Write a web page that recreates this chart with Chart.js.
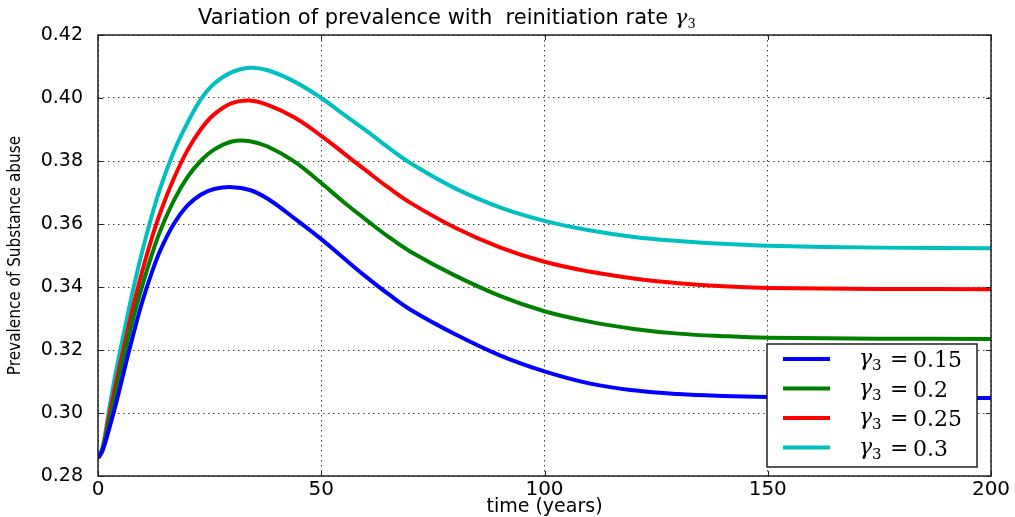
<!DOCTYPE html>
<html>
<head>
<meta charset="utf-8">
<script src="https://cdn.jsdelivr.net/npm/chart.js@4/dist/chart.umd.min.js"></script>
<style>
  html, body { margin: 0; padding: 0; background: #fff; }
  #wrap { width: 1015px; height: 517px; }
</style>
</head>
<body>
<div id="wrap"><canvas id="chart" width="1015" height="517"></canvas></div>
<script>
// time axis (years), shared by every curve
const years = [0, 1, 2.5, 4, 6, 8, 10, 12, 14, 17, 20, 23, 26, 30, 34, 38, 44, 50, 55, 60, 65, 70, 80, 90, 100, 110, 120, 130, 140, 150, 175, 200];

// reinitiation rates gamma_3
const gammas = [0.15, 0.2, 0.25, 0.3];

// prevalence
const prev015 = [0.2857, 0.2880, 0.2950, 0.3028, 0.3143, 0.3255, 0.3357, 0.3444, 0.3518, 0.3601, 0.3658, 0.3693, 0.3711, 0.3717, 0.3708, 0.3680, 0.3618, 0.3552, 0.3492, 0.3433, 0.3378, 0.3328, 0.3250, 0.3183, 0.3132, 0.3094, 0.3072, 0.3060, 0.3054, 0.3051, 0.3048, 0.3048];
const prev020 = [0.2857, 0.2882, 0.2968, 0.3063, 0.3192, 0.3306, 0.3408, 0.3500, 0.3580, 0.3675, 0.3748, 0.3800, 0.3836, 0.3862, 0.3863, 0.3846, 0.3798, 0.3730, 0.3670, 0.3614, 0.3560, 0.3512, 0.3436, 0.3372, 0.3323, 0.3290, 0.3267, 0.3252, 0.3244, 0.3239, 0.3236, 0.3235];
const prev025 = [0.2857, 0.2885, 0.2990, 0.3092, 0.3220, 0.3345, 0.3455, 0.3553, 0.3638, 0.3745, 0.3833, 0.3900, 0.3948, 0.3984, 0.3992, 0.3978, 0.3938, 0.3880, 0.3825, 0.3770, 0.3716, 0.3667, 0.3588, 0.3526, 0.3480, 0.3449, 0.3427, 0.3412, 0.3402, 0.3397, 0.3394, 0.3393];
const prev030 = [0.2857, 0.2890, 0.3012, 0.3130, 0.3268, 0.3400, 0.3518, 0.3624, 0.3716, 0.3830, 0.3920, 0.3995, 0.4045, 0.4082, 0.4096, 0.4088, 0.4052, 0.4000, 0.3948, 0.3897, 0.3843, 0.3793, 0.3713, 0.3653, 0.3610, 0.3580, 0.3559, 0.3546, 0.3537, 0.3531, 0.3525, 0.3523];

const series = [prev015, prev020, prev025, prev030];
const colors = ['#0000ff', '#008000', '#ff0000', '#00bfbf'];

const yTicks = [0.28, 0.30, 0.32, 0.34, 0.36, 0.38, 0.40, 0.42];
const xTicks = [0, 50, 100, 150, 200];

const titleText = 'Variation of prevalence with  reinitiation rate ';

// frame, inward ticks, title and legend box drawn like matplotlib
const mplLook = {
  id: 'mplLook',
  afterDatasetsDraw(chart) {
    const ctx = chart.ctx;
    const a = chart.chartArea;
    const xs = chart.scales.x, ys = chart.scales.y;
    ctx.save();
    ctx.strokeStyle = '#222';
    ctx.lineWidth = 1.5;
    ctx.strokeRect(a.left, a.top, a.right - a.left, a.bottom - a.top);
    ctx.lineWidth = 1;
    xTicks.forEach(v => {
      const px = Math.round(xs.getPixelForValue(v)) + 0.5;
      ctx.beginPath();
      ctx.moveTo(px, a.bottom); ctx.lineTo(px, a.bottom - 5);
      ctx.moveTo(px, a.top); ctx.lineTo(px, a.top + 5);
      ctx.stroke();
    });
    yTicks.forEach(v => {
      const py = Math.round(ys.getPixelForValue(v)) + 0.5;
      ctx.beginPath();
      ctx.moveTo(a.left, py); ctx.lineTo(a.left + 5, py);
      ctx.moveTo(a.right, py); ctx.lineTo(a.right - 5, py);
      ctx.stroke();
    });

    // title
    ctx.fillStyle = '#000';
    ctx.textBaseline = 'alphabetic';
    ctx.textAlign = 'left';
    ctx.font = '21px "DejaVu Sans"';
    const tw = ctx.measureText(titleText).width;
    const x0 = 198;
    ctx.fillText(titleText, x0, 24);
    ctx.font = 'italic 21px "DejaVu Serif"';
    const gw = ctx.measureText('γ').width;
    ctx.fillText('γ', x0 + tw, 24);
    ctx.font = '13px "DejaVu Serif"';
    ctx.fillText('3', x0 + tw + gw, 28);

    // legend
    const bx = a.right - 224, by = a.bottom - 132, bw = 210, bh = 123;
    ctx.fillStyle = '#fff';
    ctx.fillRect(bx, by, bw, bh);
    ctx.strokeStyle = '#222';
    ctx.lineWidth = 1.5;
    ctx.strokeRect(bx, by, bw, bh);
    chart.data.datasets.forEach((ds, i) => {
      const ly = by + 15 + i * 29.5;
      ctx.strokeStyle = ds.borderColor;
      ctx.lineWidth = 4;
      ctx.beginPath();
      ctx.moveTo(bx + 16, ly); ctx.lineTo(bx + 63, ly);
      ctx.stroke();
      ctx.fillStyle = '#000';
      ctx.font = 'italic 22px "DejaVu Serif"';
      ctx.fillText('γ', bx + 92, ly + 6);
      ctx.font = '15px "DejaVu Serif"';
      ctx.fillText('3', bx + 105, ly + 11);
      ctx.font = '22px "DejaVu Serif"';
      ctx.fillText('=', bx + 123, ly + 7);
      ctx.fillText(String(gammas[i]), bx + 146, ly + 8);
    });
    ctx.restore();
  }
};

const datasets = series.map((vals, i) => ({
  label: 'γ3 = ' + gammas[i],
  data: years.map((t, k) => ({ x: t, y: vals[k] })),
  borderColor: colors[i],
  backgroundColor: colors[i],
  borderWidth: 4,
  pointRadius: 0,
  tension: 0.4,
  fill: false
}));

new Chart(document.getElementById('chart').getContext('2d'), {
  type: 'line',
  data: { datasets },
  options: {
    responsive: false,
    animation: false,
    layout: { padding: { left: 0, top: 35, right: 24, bottom: 0 } },
    plugins: {
      legend: { display: false },
      tooltip: { enabled: false },
      title: { display: false }
    },
    scales: {
      x: {
        type: 'linear',
        min: 0,
        max: 200,
        afterBuildTicks: s => { s.ticks = xTicks.map(v => ({ value: v })); },
        afterFit: s => { s.height = 41; },
        grid: { color: 'rgba(0,0,0,0.75)', lineWidth: 1, drawTicks: false },
        border: { display: false, dash: [1.5, 3.5] },
        ticks: {
          color: '#000',
          padding: 2,
          maxRotation: 0,
          font: { family: '"DejaVu Sans"', size: 20 }
        },
        title: {
          display: true,
          text: 'time (years)',
          color: '#000',
          padding: { top: 0, bottom: -1 },
          font: { family: '"DejaVu Sans"', size: 19 }
        }
      },
      y: {
        min: 0.28,
        max: 0.42,
        afterBuildTicks: s => { s.ticks = yTicks.map(v => ({ value: v })); },
        afterFit: s => { s.width = 98; },
        grid: { color: 'rgba(0,0,0,0.75)', lineWidth: 1, drawTicks: false },
        border: { display: false, dash: [1.5, 3.5] },
        ticks: {
          color: '#000',
          padding: 15,
          callback: v => v.toFixed(2),
          font: { family: '"DejaVu Sans"', size: 19 }
        },
        title: {
          display: true,
          text: 'Prevalence of Substance abuse',
          color: '#000',
          padding: { top: 5, bottom: 0 },
          font: { family: '"Liberation Sans Narrow", "DejaVu Sans Condensed", "Liberation Sans", sans-serif', size: 17 }
        }
      }
    }
  },
  plugins: [mplLook]
});
</script>
</body>
</html>
